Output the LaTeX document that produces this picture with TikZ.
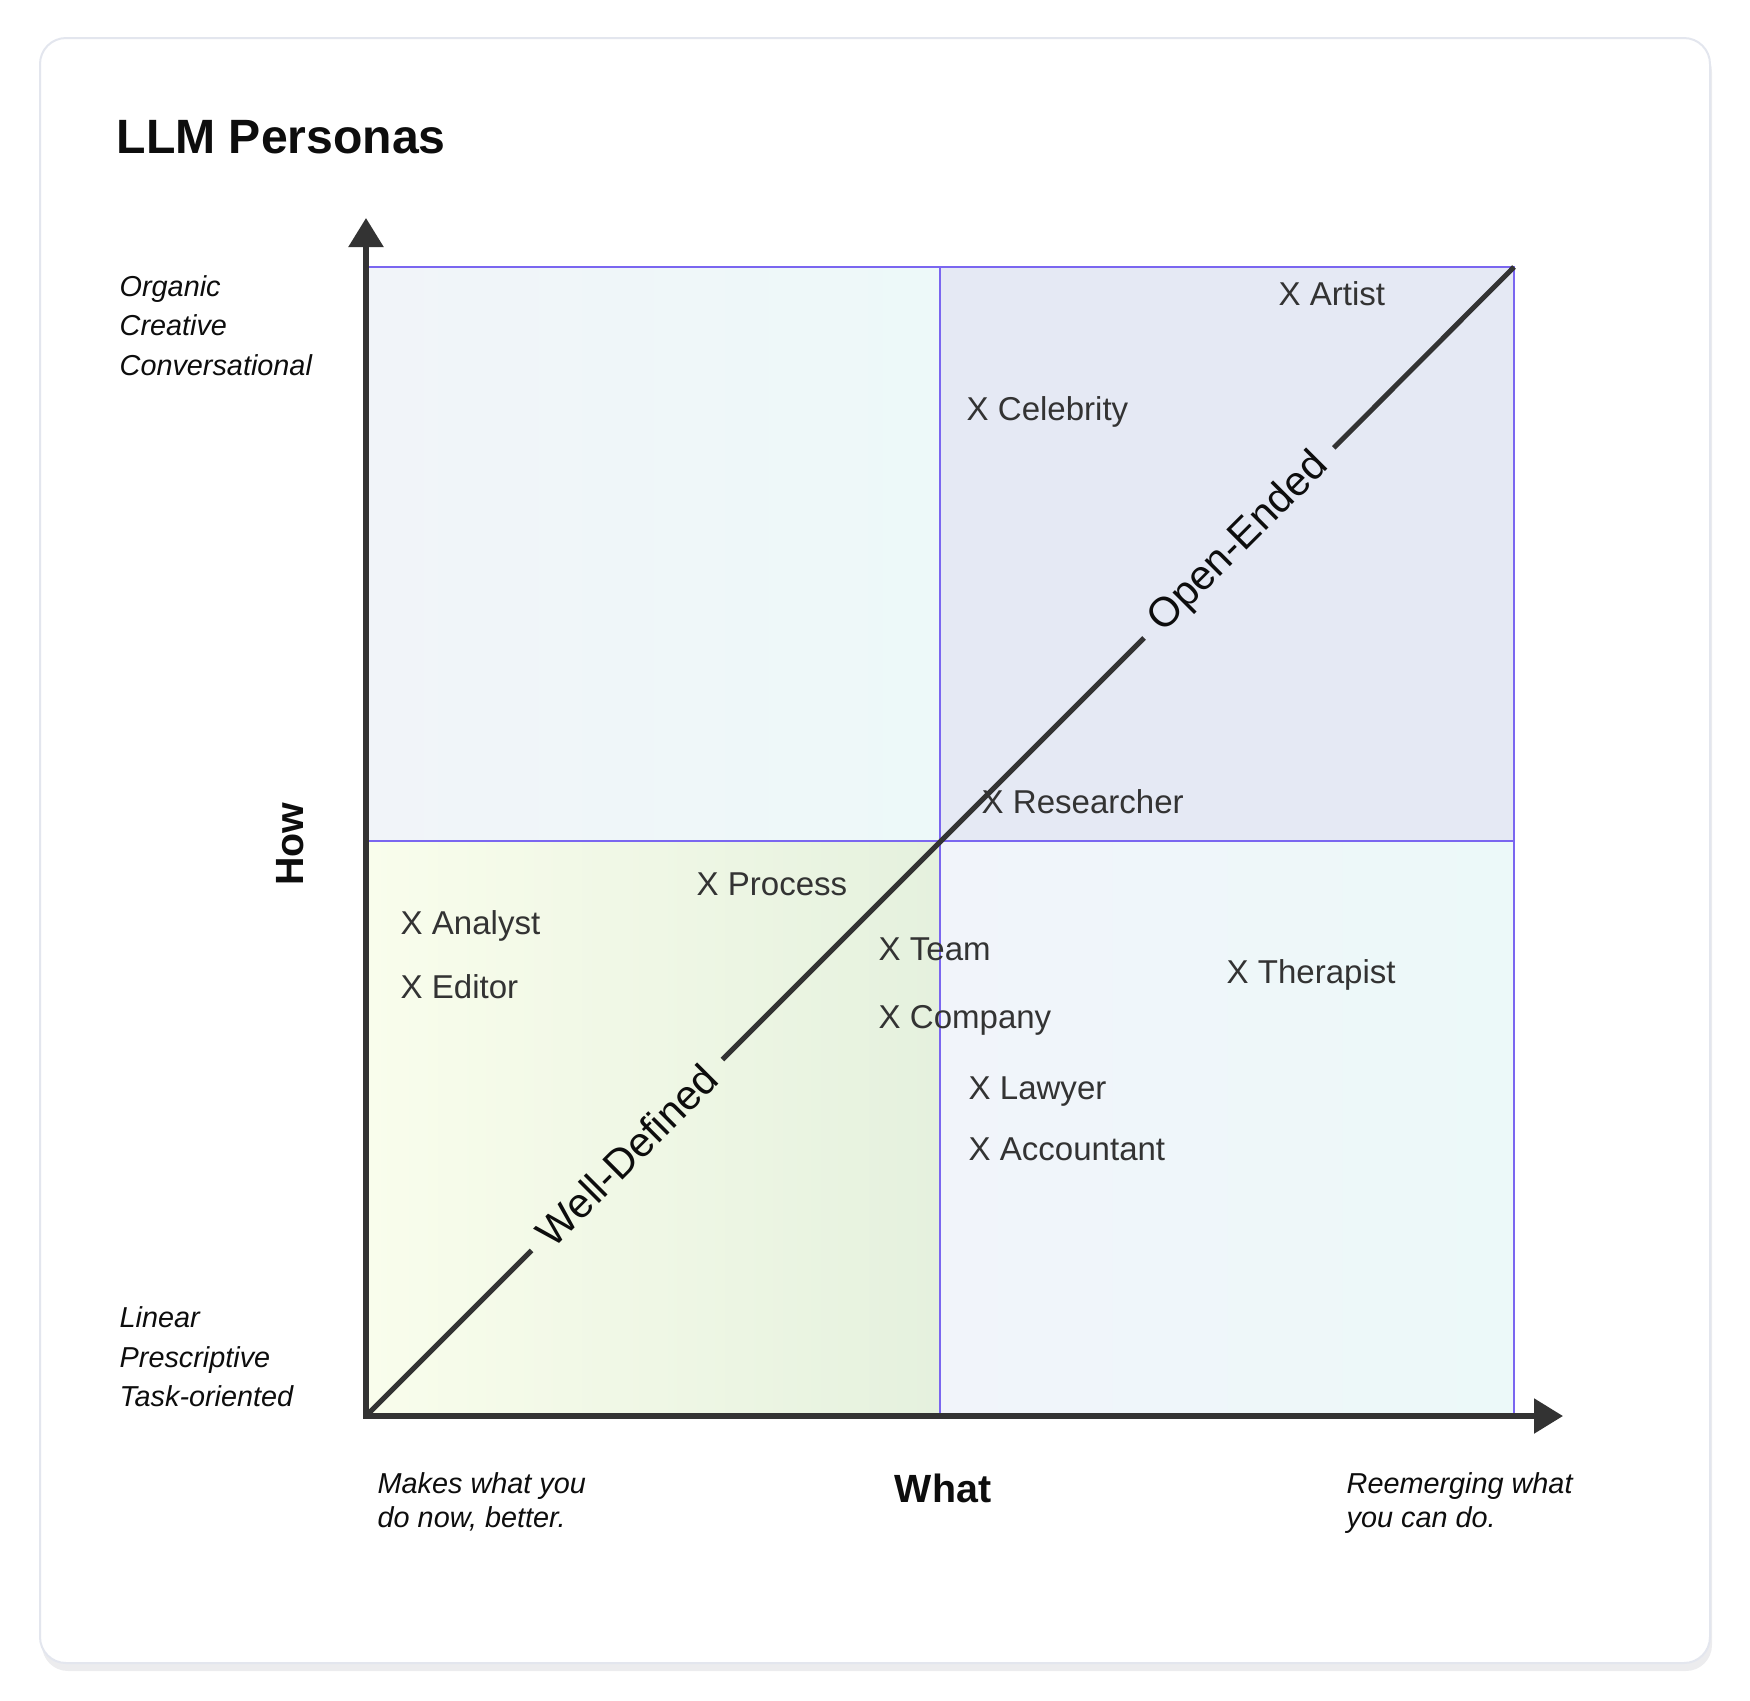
\documentclass[tikz,border=0pt]{standalone}
\usepackage{fontspec}
\setmainfont{Liberation Sans}
\usepackage{xcolor}
\usetikzlibrary{arrows.meta}

\definecolor{gridpurple}{HTML}{7A66F0}
\definecolor{axisgray}{HTML}{333333}
\definecolor{inkgray}{HTML}{333333}
\definecolor{inkblack}{HTML}{0D0D0D}
\definecolor{cardedge}{HTML}{E3E6EE}
\definecolor{cardshadow}{HTML}{ECECEE}
\definecolor{tlA}{HTML}{F1F4F9}
\definecolor{tlB}{HTML}{EDF9F9}
\definecolor{trFill}{HTML}{E5E9F4}
\definecolor{blA}{HTML}{F9FDEC}
\definecolor{blB}{HTML}{E5F1DE}
\definecolor{brA}{HTML}{F1F4FA}
\definecolor{brB}{HTML}{ECF9F9}

\begin{document}
\begin{tikzpicture}[x=0.1mm, y=-0.1mm,
    persona/.style={anchor=base west, inner sep=0pt, text=inkgray, font=\fontsize{9.4}{11}\selectfont},
    sidenote/.style={anchor=base west, inner sep=0pt, align=left, text=inkblack, font=\fontsize{8.2}{11.1}\selectfont\itshape},
    bottomnote/.style={sidenote, font=\fontsize{8.2}{9.6}\selectfont\itshape},
    axislabel/.style={inner sep=0pt, text=inkblack, font=\fontsize{11.2}{13}\selectfont\bfseries},
    diaglabel/.style={rotate=45, inner xsep=1.6mm, inner ysep=0pt, text=inkblack, font=\fontsize{11.8}{14}\selectfont},
    gridline/.style={draw=gridpurple, line width=0.2mm},
    axis/.style={draw=axisgray, line width=0.55mm, {Triangle[width=3.4mm,length=2.9mm]}-{Triangle[width=3.4mm,length=2.9mm]}},
    diagonal/.style={draw=axisgray, line width=0.5mm}
]
\useasboundingbox (0,0) rectangle (1750,1701);

% Card
\fill[cardshadow, rounded corners=2.6mm] (42,46) rectangle (1712,1671);
\draw[cardedge, line width=0.2mm, fill=white, rounded corners=2.6mm] (40,38) rectangle (1710,1663);

% Quadrants
\shade[left color=tlA, right color=tlB] (366,267) rectangle (940,841);
\fill[trFill] (940,267) rectangle (1514,841);
\shade[left color=blA, right color=blB] (366,841) rectangle (940,1416);
\shade[left color=brA, right color=brB] (940,841) rectangle (1514,1416);
\draw[gridline] (366,267) rectangle (1514,1416);
\draw[gridline] (940,267) -- (940,1416);
\draw[gridline] (366,841) -- (1514,841);

% Axis points
\coordinate (origin) at (366,1416);
\coordinate (ytip) at (366,218);
\coordinate (xtip) at (1563,1416);
\coordinate (corner) at (1514,267);

% Diagonal
\node[diaglabel] (welldef) at (627,1155) {Well-Defined};
\node[diaglabel] (openend) at (1239,543) {Open-Ended};
\draw[diagonal] (origin) -- (welldef) -- (openend) -- (corner);

% Axes
\draw[axis] (ytip) -- (origin) -- (xtip);

% Title and axis labels
\node[anchor=base west, inner sep=0pt, text=inkblack, font=\fontsize{13.7}{16}\selectfont\bfseries] (title) at (116,153) {LLM Personas};
\node[axislabel, anchor=base] (what) at (943,1502) {What};
\node[axislabel, rotate=90] (how) at (290,844) {How};

% side notes (base = last line)
\node[sidenote] (organic) at (119,375) {Organic\\Creative\\Conversational};
\node[sidenote] (linear) at (119,1406) {Linear\\Prescriptive\\Task-oriented};
\node[bottomnote] (makes) at (377,1527) {Makes what you\\do now, better.};
\node[bottomnote] (reemerging) at (1346,1527) {Reemerging what\\you can do.};

% Personas
\node[persona] (artist) at (1278,305) {X Artist};
\node[persona] (celebrity) at (966,420) {X Celebrity};
\node[persona] (researcher) at (981,813) {X Researcher};
\node[persona] (process) at (696,895) {X Process};
\node[persona] (analyst) at (400,934) {X Analyst};
\node[persona] (editor) at (400,998) {X Editor};
\node[persona] (team) at (878,960) {X Team};
\node[persona] (company) at (878,1028) {X Company};
\node[persona] (therapist) at (1226,983) {X Therapist};
\node[persona] (lawyer) at (968,1099) {X Lawyer};
\node[persona] (accountant) at (968,1160) {X Accountant};

\end{tikzpicture}
\end{document}
